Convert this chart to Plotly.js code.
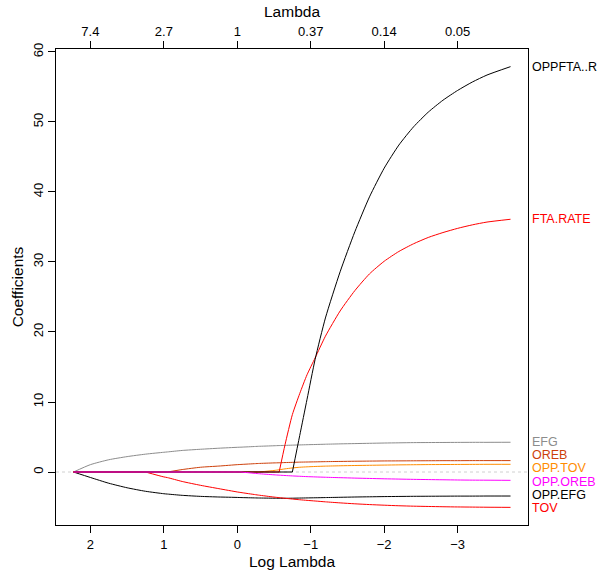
<!DOCTYPE html>
<html>
<head>
<meta charset="utf-8">
<script src="https://cdn.plot.ly/plotly-3.0.1.min.js"></script>
<style>
  html, body { margin: 0; padding: 0; background: #ffffff; }
  #chart { width: 606px; height: 574px; }
</style>
</head>
<body>
<div id="chart"></div>
<script>
// Lasso coefficient paths along the log(lambda) grid
const logLambda = [2.23, 2.0, 1.75, 1.5, 1.25, 1.0, 0.95, 0.75, 0.5, 0.25, 0.0, -0.05,
  -0.25, -0.29, -0.5, -0.57, -0.65, -0.75, -0.85, -0.95, -1.06, -1.2, -1.4, -1.6,
  -1.8, -2.0, -2.2, -2.4, -2.6, -2.8, -3.0, -3.2, -3.4, -3.72];

const coefEFG = [0, 1.05, 1.75, 2.2, 2.55, 2.82, 2.87, 3.08, 3.25, 3.4, 3.53, 3.55,
  3.65, 3.67, 3.75, 3.78, 3.8, 3.84, 3.87, 3.9, 3.93, 3.97, 4.02, 4.06,
  4.1, 4.14, 4.17, 4.2, 4.21, 4.22, 4.23, 4.24, 4.24, 4.25];

const coefOPPEFG = [0, -0.78, -1.6, -2.25, -2.75, -3.1, -3.15, -3.33, -3.48, -3.57, -3.63, -3.65,
  -3.7, -3.71, -3.74, -3.75, -3.75, -3.74, -3.72, -3.7, -3.68, -3.65, -3.61, -3.57,
  -3.54, -3.51, -3.49, -3.47, -3.46, -3.45, -3.44, -3.44, -3.43, -3.43];

const coefTOV = [0, 0, 0, 0, 0, -0.7, -0.8, -1.35, -1.9, -2.38, -2.85, -2.93,
  -3.24, -3.3, -3.58, -3.66, -3.75, -3.86, -3.96, -4.05, -4.14, -4.26, -4.41, -4.54,
  -4.65, -4.74, -4.82, -4.88, -4.92, -4.96, -4.99, -5.01, -5.03, -5.05];

const coefOREB = [0, 0, 0, 0, 0, 0, 0, 0.35, 0.68, 0.85, 1.05, 1.08,
  1.2, 1.22, 1.3, 1.32, 1.35, 1.38, 1.41, 1.43, 1.45, 1.48, 1.51, 1.54,
  1.56, 1.58, 1.59, 1.6, 1.61, 1.62, 1.62, 1.63, 1.63, 1.63];

const coefOPPTOV = [0, 0, 0, 0, 0, 0, 0, 0, 0, 0, 0, 0,
  0, 0, 0.22, 0.32, 0.45, 0.58, 0.68, 0.74, 0.79, 0.84, 0.89, 0.93,
  0.96, 0.99, 1.02, 1.04, 1.06, 1.07, 1.08, 1.09, 1.1, 1.1];

const coefFTARATE = [0, 0, 0, 0, 0, 0, 0, 0, 0, 0, 0, 0,
  0, 0, 0, 0, 3.9, 8.2, 11.2, 13.9, 16.3, 19.4, 23.0, 25.9,
  28.3, 30.1, 31.5, 32.6, 33.5, 34.2, 34.8, 35.3, 35.7, 36.1];

const coefOPPFTAR = [0, 0, 0, 0, 0, 0, 0, 0, 0, 0, 0, 0,
  0, 0, 0, 0, 0, 0, 5.2, 10.4, 16.1, 22.0, 28.6, 34.3,
  39.3, 43.4, 46.7, 49.3, 51.4, 53.1, 54.5, 55.7, 56.7, 57.9];

const coefOPPOREB = [0, 0, 0, 0, 0, 0, 0, 0, 0, 0, 0, 0,
  -0.2, -0.24, -0.4, -0.45, -0.5, -0.56, -0.61, -0.66, -0.7, -0.75, -0.81, -0.87,
  -0.92, -0.97, -1.01, -1.05, -1.08, -1.11, -1.14, -1.16, -1.17, -1.19];

const varNames = ["EFG", "OPP.EFG", "TOV", "OREB", "OPP.TOV", "FTA.RATE", "OPPFTA..R", "OPP.OREB"];
const varCoefs = [coefEFG, coefOPPEFG, coefTOV, coefOREB, coefOPPTOV, coefFTARATE, coefOPPFTAR, coefOPPOREB];
const varColors = ["#8c8c8c", "#000000", "#ff0000", "#cd3f0a", "#ff8c00", "#ff0000", "#000000", "#ff00ff"];

const bottomTicks = [2, 1, 0, -1, -2, -3];
const topTickText = ["7.4", "2.7", "1", "0.37", "0.14", "0.05"];

const FONT = "Liberation Sans, Arial, Helvetica, sans-serif";

// axis ranges padded 4% like base graphics
function padded(arr, frac) {
  const lo = Math.min(...arr), hi = Math.max(...arr);
  const d = (hi - lo) * frac;
  return [lo - d, hi + d];
}
const xr = padded(logLambda, 0.04);
const yr = padded([].concat(...varCoefs), 0.04);

// each path: flat part at zero (straight) + active part (smoothed)
const traces = [];
varNames.forEach((nm, i) => {
  const c = varCoefs[i];
  let k = c.findIndex(v => v !== 0);
  if (k < 1) k = 1;
  traces.push({
    x: logLambda.slice(0, k), y: c.slice(0, k),
    type: "scatter", mode: "lines",
    line: { color: varColors[i], width: 1 },
    hoverinfo: "skip", showlegend: false
  });
  traces.push({
    x: logLambda.slice(k - 1), y: c.slice(k - 1),
    type: "scatter", mode: "lines", name: nm,
    line: { color: varColors[i], width: 1, shape: "spline", smoothing: 0.6 },
    hoverinfo: "skip", showlegend: false
  });
});
// empty trace so the top lambda axis gets its own subplot
traces.push({ x: [], y: [], xaxis: "x2", type: "scatter", mode: "lines", showlegend: false, hoverinfo: "skip" });

// spread the right-hand labels so they do not overlap
const plotH = 574 - 49 - 49;
const minGap = 13.2 * (yr[1] - yr[0]) / plotH;
const order = varNames.map((_, i) => i).sort((a, b) => {
  const ea = varCoefs[a][varCoefs[a].length - 1], eb = varCoefs[b][varCoefs[b].length - 1];
  return eb - ea;
});
const labY = {};
order.forEach(i => { labY[i] = varCoefs[i][varCoefs[i].length - 1]; });
for (let it = 0; it < 200; it++) {
  for (let k = 0; k < order.length - 1; k++) {
    const a = order[k], b = order[k + 1];
    const gap = labY[a] - labY[b];
    if (gap < minGap) {
      const d = (minGap - gap) / 2;
      labY[a] += d; labY[b] -= d;
    }
  }
}
const annotations = varNames.map((nm, i) => ({
  text: nm,
  xref: "paper", x: 1, xanchor: "left", xshift: 3,
  yref: "y", y: labY[i], yanchor: "middle",
  showarrow: false, borderpad: 0,
  font: { family: FONT, size: 12.5, color: varColors[i] }
}));

const layout = {
  width: 606, height: 574,
  margin: { l: 56, r: 78, t: 49, b: 49 },
  paper_bgcolor: "#ffffff", plot_bgcolor: "#ffffff",
  font: { family: FONT, size: 13, color: "#000000" },
  xaxis: {
    range: [xr[1], xr[0]],
    tickvals: bottomTicks,
    ticks: "outside", ticklen: 7, tickwidth: 1, tickcolor: "#000000",
    showgrid: false, zeroline: false,
    showline: true, mirror: true, linecolor: "#000000", linewidth: 1,
    tickfont: { family: FONT, size: 13 },
    title: { text: "Log Lambda", font: { family: FONT, size: 15.5 }, standoff: 5 }
  },
  xaxis2: {
    overlaying: "x", side: "top", anchor: "y",
    range: [xr[1], xr[0]],
    tickvals: bottomTicks, ticktext: topTickText,
    ticks: "outside", ticklen: 7, tickwidth: 1, tickcolor: "#000000",
    showgrid: false, zeroline: false, showline: false,
    tickfont: { family: FONT, size: 13 },
    title: { text: "Lambda", font: { family: FONT, size: 15.5 }, standoff: 2 }
  },
  yaxis: {
    range: [yr[0], yr[1]],
    tickvals: [0, 10, 20, 30, 40, 50, 60],
    tickangle: -90,
    ticks: "outside", ticklen: 7, tickwidth: 1, tickcolor: "#000000",
    showgrid: false, zeroline: false,
    showline: true, mirror: true, linecolor: "#000000", linewidth: 1,
    tickfont: { family: FONT, size: 13 },
    title: { text: "Coefficients", font: { family: FONT, size: 15.5 }, standoff: 3 }
  },
  shapes: [{
    type: "line", layer: "below",
    xref: "paper", x0: 0, x1: 1, yref: "y", y0: 0, y1: 0,
    line: { color: "#d0d0d0", width: 1, dash: "dot" }
  }],
  annotations: annotations
};

Plotly.newPlot("chart", traces, layout, { displayModeBar: false, staticPlot: true });
</script>
</body>
</html>
